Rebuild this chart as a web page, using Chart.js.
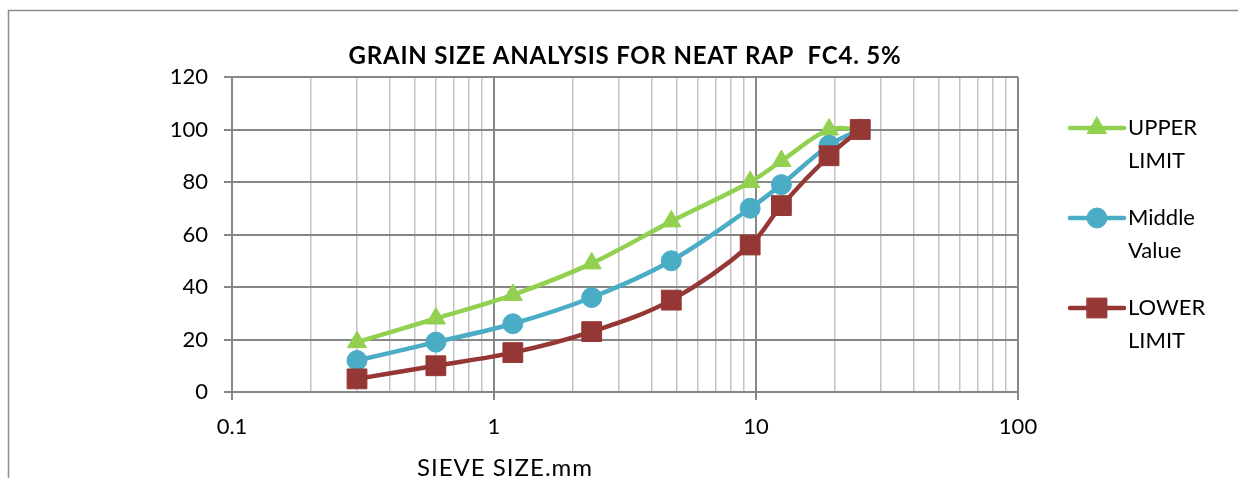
<!DOCTYPE html>
<html>
<head>
<meta charset="utf-8">
<title>Grain size analysis</title>
<script src="https://cdn.jsdelivr.net/npm/chart.js@4.4.0/dist/chart.umd.min.js"></script>
<style>
  html, body { margin: 0; padding: 0; background: #fff; }
  #wrap { width: 1238px; height: 478px; }
</style>
</head>
<body>
<div id="wrap"><canvas id="gradation" width="1238" height="478"></canvas></div>
<script>
// Sieve sizes (mm) and percent passing for each envelope
const sieveSizes = [0.3, 0.6, 1.18, 2.36, 4.75, 9.5, 12.5, 19, 25];
const upperLimit = [19, 28, 37, 49, 65, 80, 88, 100, 100];
const middleValue = [12, 19, 26, 36, 50, 70, 79, 94, 100];
const lowerLimit = [5, 10, 15, 23, 35, 56, 71, 90, 100];
const seriesNames = ['UPPER LIMIT', 'Middle Value', 'LOWER LIMIT'];
const decades = [0.1, 1, 10, 100];

const chartTitle = 'GRAIN SIZE ANALYSIS FOR NEAT RAP  FC4. 5%';
const xTitle = 'SIEVE SIZE.mm';

const FONT = 'Lato, sans-serif';
const gridDark = '#878787';
const gridLight = '#c3c3c3';

const green = '#92d050';
const blue = '#4bacc6';
const red = '#953735';

const toPoints = (vals) => sieveSizes.map((s, i) => ({ x: s, y: vals[i] }));
const isDecade = (v) => Math.abs(Math.log10(v) - Math.round(Math.log10(v))) < 1e-9;

function series(label, vals, color, style, radius, order) {
    return {
        label: label,
        data: toPoints(vals),
        showLine: true,
        borderColor: color,
        backgroundColor: color,
        borderWidth: 4.5,
        tension: 0.35,
        pointStyle: style,
        pointRadius: radius,
        pointHoverRadius: radius,
        pointBorderWidth: 1,
        order: order
    };
}

// frame, title, x axis caption and the two-line legend
const decorations = {
    id: 'decorations',
    beforeDraw(chart) {
        const ctx = chart.ctx;
        ctx.save();
        ctx.fillStyle = '#fff';
        ctx.fillRect(0, 0, chart.width, chart.height);
        ctx.strokeStyle = '#8c8c8c';
        ctx.lineWidth = 1.5;
        ctx.strokeRect(8.5, 10.5, chart.width + 20, chart.height + 20);
        ctx.restore();
    },
    afterDraw(chart) {
        const ctx = chart.ctx;
        const area = chart.chartArea;
        ctx.save();
        ctx.fillStyle = '#000';
        ctx.textAlign = 'center';
        ctx.textBaseline = 'middle';
        ctx.font = 'bold 24px ' + FONT;
        ctx.letterSpacing = '0.8px';
        ctx.fillText(chartTitle, (area.left + area.right) / 2, 56);

        ctx.font = '24px ' + FONT;
        ctx.letterSpacing = '1px';
        ctx.textBaseline = 'alphabetic';
        ctx.fillText(xTitle, 505, 476);
        ctx.letterSpacing = '0px';

        // legend
        chart.data.datasets.forEach((ds, i) => {
            const y = 128 + i * 90;
            ctx.strokeStyle = ds.borderColor;
            ctx.fillStyle = ds.backgroundColor;
            ctx.lineWidth = 4.5;
            ctx.lineCap = 'round';
            ctx.beginPath();
            ctx.moveTo(1070, y);
            ctx.lineTo(1124, y);
            ctx.stroke();
            ctx.lineWidth = 1;
            Chart.helpers.drawPoint(ctx, {
                pointStyle: ds.pointStyle,
                radius: ds.pointRadius,
                rotation: 0,
                borderWidth: 1
            }, 1097, y);
            ctx.fillStyle = '#000';
            ctx.textAlign = 'left';
            ctx.textBaseline = 'middle';
            ctx.font = '22px ' + FONT;
            ds.label.split(' ').forEach((word, j) => {
                ctx.fillText(word, 1128, y + j * 33);
            });
        });
        ctx.restore();
    }
};

const config = {
    type: 'scatter',
    data: {
        datasets: [
            series(seriesNames[0], upperLimit, green, 'triangle', 11, 2),
            series(seriesNames[1], middleValue, blue, 'circle', 10, 1),
            series(seriesNames[2], lowerLimit, red, 'rect', 14, 0)
        ]
    },
    options: {
        responsive: false,
        animation: false,
        layout: { padding: { top: 77, right: 220, left: 0, bottom: 0 } },
        plugins: {
            legend: { display: false },
            title: { display: false },
            tooltip: { enabled: false }
        },
        scales: {
            x: {
                type: 'logarithmic',
                min: 0.1,
                max: 100,
                afterBuildTicks: (scale) => {
                    const ticks = [];
                    decades.forEach((d, k) => {
                        if (k === decades.length - 1) {
                            ticks.push({ value: d });
                            return;
                        }
                        for (let m = 1; m <= 9; m++) {
                            ticks.push({ value: +(d * m).toPrecision(3) });
                        }
                    });
                    scale.ticks = ticks;
                },
                afterFit: (scale) => { scale.height = 86; },
                border: { display: false },
                grid: {
                    color: (c) => isDecade(c.tick.value) ? gridDark : gridLight,
                    lineWidth: (c) => isDecade(c.tick.value) ? 2 : 1.5,
                    tickColor: (c) => isDecade(c.tick.value) ? gridDark : 'rgba(0,0,0,0)',
                    tickLength: 8,
                    drawTicks: true
                },
                ticks: {
                    autoSkip: false,
                    maxRotation: 0,
                    padding: 14,
                    color: '#000',
                    font: { family: FONT, size: 22 },
                    callback: (v) => isDecade(v) ? String(v) : ''
                }
            },
            y: {
                min: 0,
                max: 120,
                afterFit: (scale) => { scale.width = 232; },
                border: { display: false },
                grid: {
                    color: gridDark,
                    lineWidth: 2,
                    tickLength: 8
                },
                ticks: {
                    stepSize: 20,
                    padding: 16,
                    color: '#000',
                    font: { family: FONT, size: 22 }
                }
            }
        }
    },
    plugins: [decorations]
};

const graph = new Chart(document.getElementById('gradation'), config);
</script>
</body>
</html>
